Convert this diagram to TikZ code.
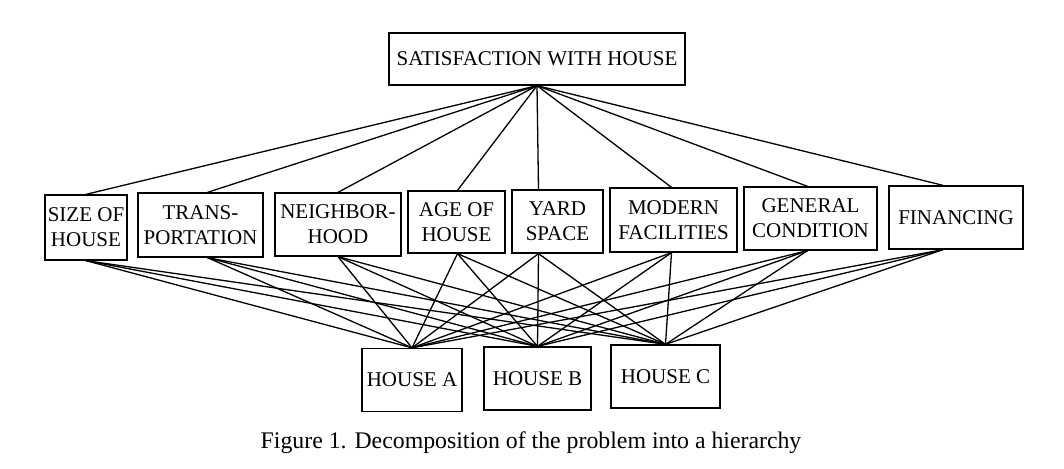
\documentclass[tikz,border=0pt]{standalone}
\usepackage{fontspec}
\setmainfont{Liberation Serif}
\usetikzlibrary{positioning}

\begin{document}
\begin{tikzpicture}[x=0.5pt,y=-0.5pt,line width=0.65pt,
  crit/.style={draw,inner sep=0pt,align=center,font=\fontsize{10.5}{12.5}\selectfont},
  alt/.style={draw,inner sep=0pt,minimum width=#1,minimum height=31.5pt,font=\fontsize{10.5}{12.5}\selectfont}]
\useasboundingbox (0,0) rectangle (1064,469);

\node[crit,minimum width=148pt,minimum height=26pt] (goal) at (537,59) {SATISFACTION WITH HOUSE};

\node[crit,minimum width=41pt,minimum height=32.5pt] (size) at (86,227.5) {SIZE OF\\HOUSE};
\node[crit,minimum width=62.5pt,minimum height=32pt] (trans) at (200.5,225) {TRANS-\\PORTATION};
\node[crit,minimum width=63pt,minimum height=31.5pt] (neigh) at (338,224.5) {NEIGHBOR-\\HOOD};
\node[crit,minimum width=48.5pt,minimum height=31pt] (age) at (456.5,222) {AGE OF\\HOUSE};
\node[crit,minimum width=45.5pt,minimum height=31.5pt] (yard) at (557.5,221.5) {YARD\\SPACE};
\node[crit,minimum width=63.5pt,minimum height=32pt] (modern) at (673.5,220) {MODERN\\FACILITIES};
\node[crit,minimum width=66.5pt,minimum height=31.5pt] (general) at (810.5,218.5) {GENERAL\\CONDITION};
\node[crit,minimum width=67pt,minimum height=31.5pt] (finance) at (956,217.5) {FINANCING};

\node[alt=50pt] (hA) at (412,380) {HOUSE A};
\node[alt=53.5pt] (hB) at (537.5,378.5) {HOUSE B};
\node[alt=54.5pt] (hC) at (665.5,376.5) {HOUSE C};

\foreach \n/\dx in {size/0,trans/7,neigh/0,age/1,yard/-19,modern/-2,general/-3,finance/-13}{
  \draw (goal.south) -- ([xshift=\dx*0.5pt]\n.north);
  \foreach \h in {hA,hB,hC}
    \draw ([xshift=\dx*0.5pt]\n.south) -- (\h.north);
}

\node[anchor=base,font=\fontsize{11.9}{14}\selectfont] (cap) at (531,449) {Figure 1. Decomposition of the problem into a hierarchy};
\end{tikzpicture}
\end{document}
